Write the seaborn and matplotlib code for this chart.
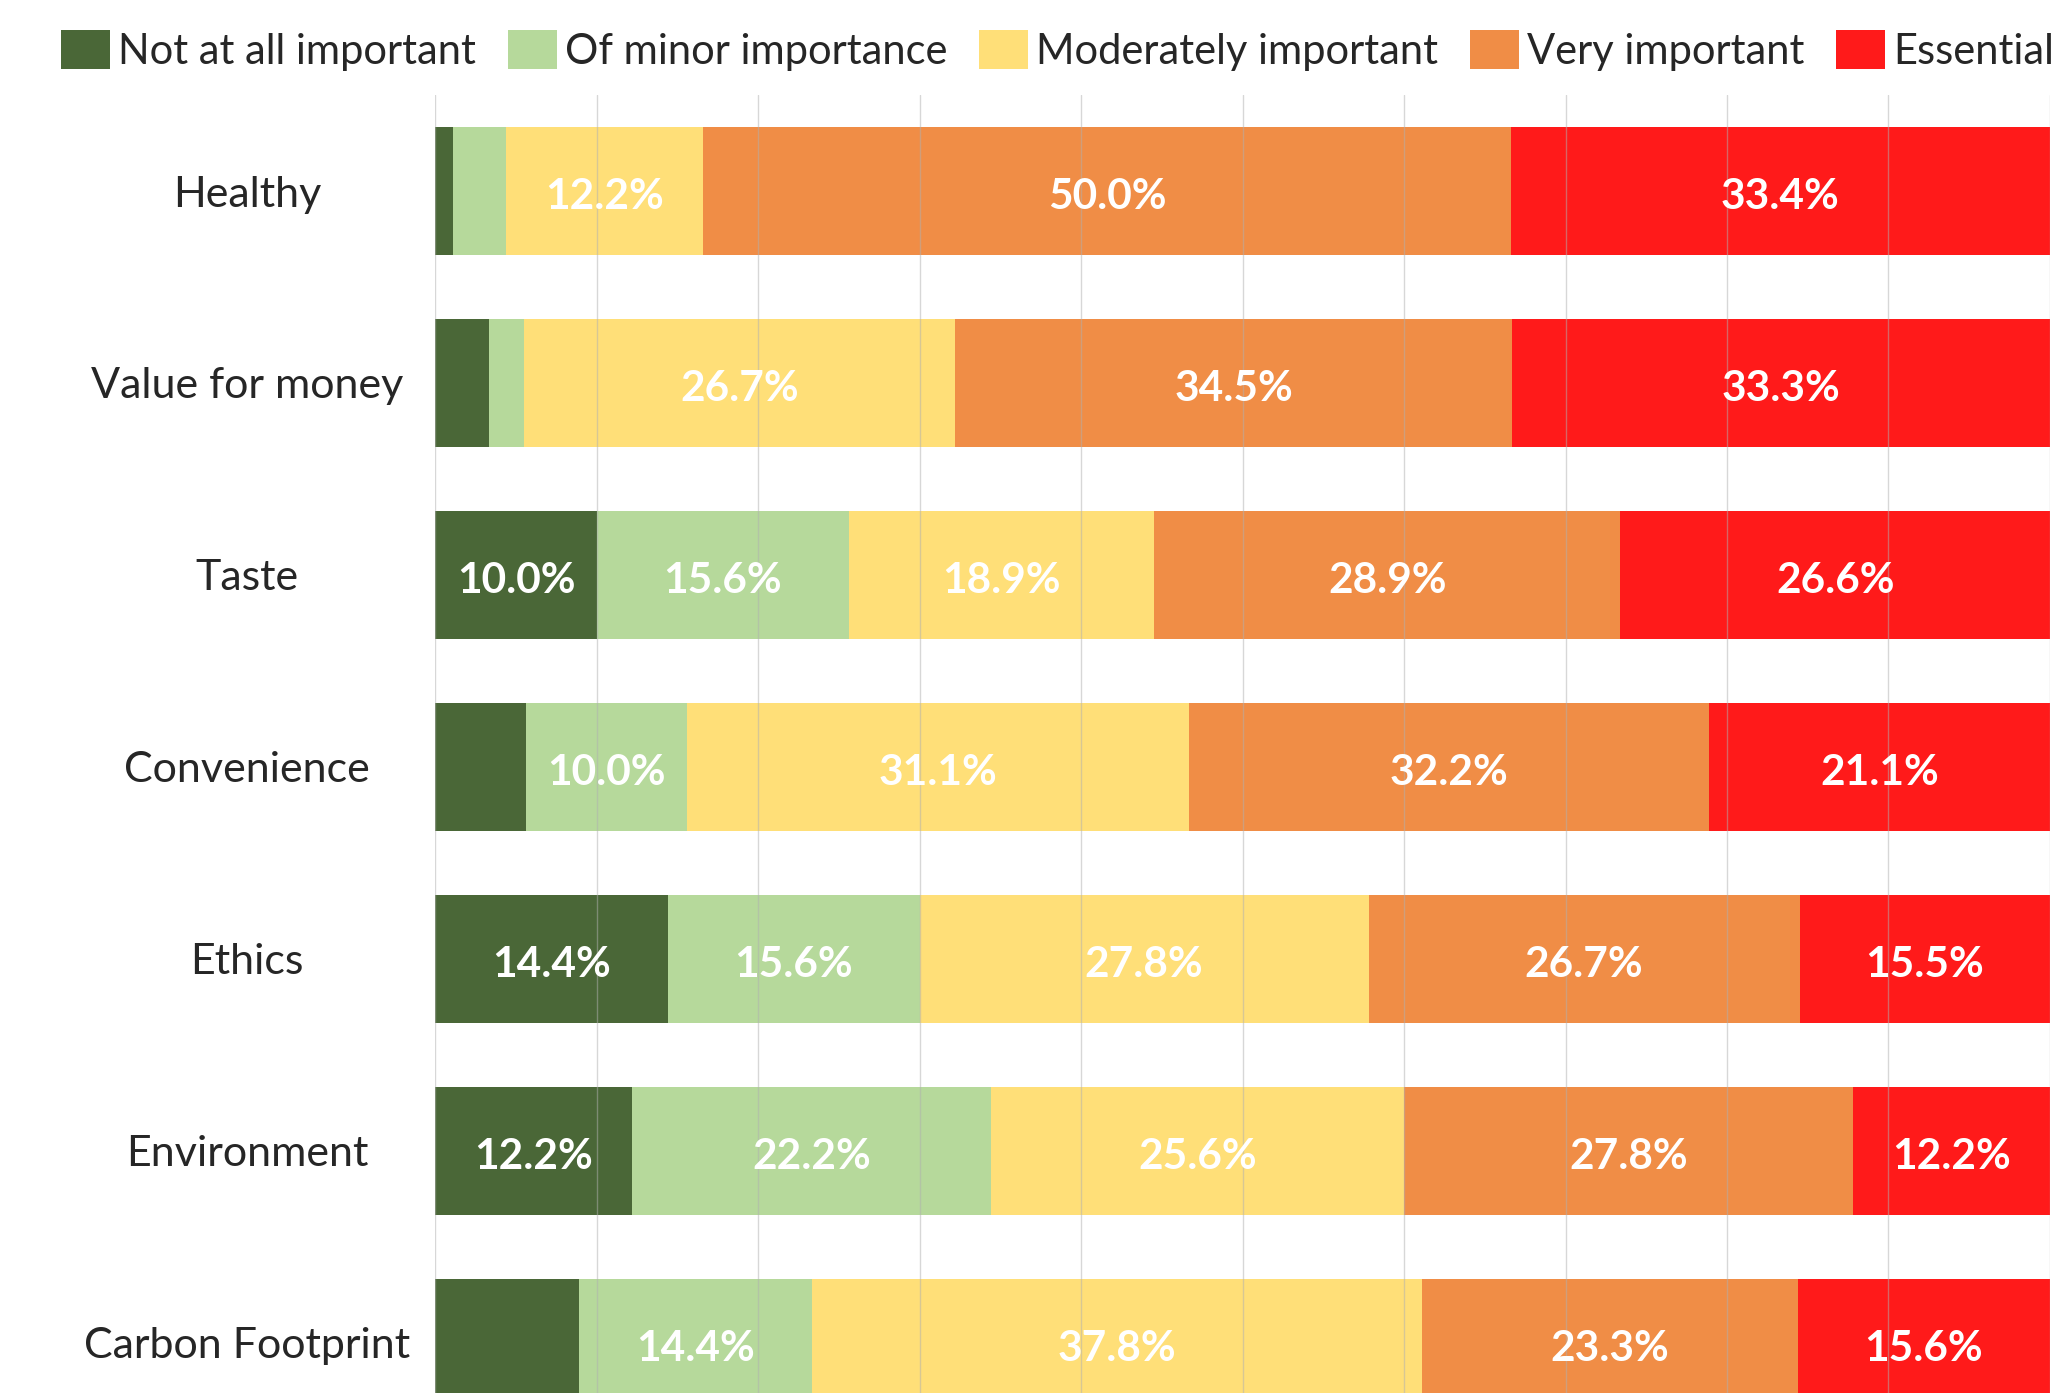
import numpy as np
import pandas as pd
import matplotlib
matplotlib.use("Agg")
import matplotlib.pyplot as plt
from matplotlib.patches import Patch
import seaborn as sns

# Survey: importance of each factor when choosing food (share of respondents, %)
categories = ["Healthy", "Value for money", "Taste", "Convenience",
              "Ethics", "Environment", "Carbon Footprint"]
levels = ["Not at all important", "Of minor importance", "Moderately important",
          "Very important", "Essential"]

not_at_all = [1.1, 3.3, 10.0, 5.6, 14.4, 12.2, 8.9]
minor = [3.3, 2.2, 15.6, 10.0, 15.6, 22.2, 14.4]
moderate = [12.2, 26.7, 18.9, 31.1, 27.8, 25.6, 37.8]
very = [50.0, 34.5, 28.9, 32.2, 26.7, 27.8, 23.3]
essential = [33.4, 33.3, 26.6, 21.1, 15.5, 12.2, 15.6]

colors = ["#4a6737", "#b6d99b", "#ffdf78", "#f08d46", "#ff1a1a"]

sns.set_theme(style="white")
plt.rcParams["font.family"] = ["Lato", "DejaVu Sans"]

df = pd.DataFrame({"category": categories,
                   levels[0]: not_at_all, levels[1]: minor, levels[2]: moderate,
                   levels[3]: very, levels[4]: essential})
values = df[levels].to_numpy()
cum = values.cumsum(axis=1)

fig = plt.figure(figsize=(20.55, 13.93), dpi=100)
ax = fig.add_axes([0.2119, -0.0330, 0.7856, 0.9648])

# Stacked bars: draw cumulative totals from the widest down
for j in range(len(levels) - 1, -1, -1):
    sns.barplot(x=cum[:, j], y=categories, orient="h", color=colors[j],
                saturation=1, width=0.668, errorbar=None, ax=ax, linewidth=0)

# Value labels on segments of at least 10%
for i in range(len(categories)):
    for j in range(len(levels)):
        v = values[i, j]
        if v >= 10:
            ax.annotate(f"{v:.1f}%", xy=(cum[i, j] - v / 2, i), xytext=(0, -4),
                        textcoords="offset points", ha="center", va="center",
                        color="white", fontsize=30.5, fontweight="bold")

ax.set_xlim(0, 100)
ax.set_ylim(6.5, -0.5)
ax.set_xticks(np.arange(0, 101, 10))
ax.set_xticklabels([])
ax.set_xlabel("")
ax.set_ylabel("")
for s in ax.spines.values():
    s.set_visible(False)
ax.set_axisbelow(False)
ax.xaxis.grid(True, color="#b0b0b0", alpha=0.5, linewidth=1.0)
ax.yaxis.grid(False)
ax.tick_params(axis="x", length=0)
ax.tick_params(axis="y", length=0, pad=135.7, labelsize=31)
for lbl in ax.get_yticklabels():
    lbl.set_horizontalalignment("center")

handles = [Patch(facecolor=c, edgecolor="none", label=l) for c, l in zip(colors, levels)]
fig.legend(handles=handles, loc="upper left", bbox_to_anchor=(61 / 2055, 1 - 30 / 1393),
           ncol=5, frameon=False, fontsize=30, handlelength=1.18, handleheight=1.06,
           handletextpad=0.2, columnspacing=0.75, borderpad=0, borderaxespad=0)

fig.savefig("out.png", dpi=100)
